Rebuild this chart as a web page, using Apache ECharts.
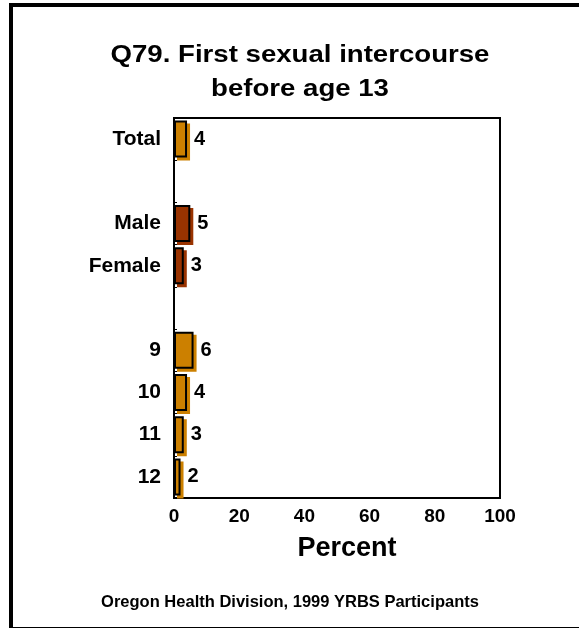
<!DOCTYPE html>
<html><head><meta charset="utf-8">
<script src="https://cdn.jsdelivr.net/npm/echarts@6/dist/echarts.min.js"></script>
<style>html,body{margin:0;padding:0;background:#fff}#c{width:579px;height:628px}</style>
</head><body><div id="c"></div>
<script>
const categories = ['Total', '', 'Male', 'Female', '', '9', '10', '11', '12'];
const values = [4, null, 5, 3, null, 6, 4, 3, 2];
const groups = ['all', null, 'sex', 'sex', null, 'grade', 'grade', 'grade', 'grade'];
const xTicks = [0, 20, 40, 60, 80, 100];
const colorMap = { all: '#CC8000', sex: '#993300', grade: '#CC8000' };

const chart = echarts.init(document.getElementById('c'), null, { renderer: 'canvas' });
const font = 'Liberation Sans, Arial, sans-serif';
const data = values.map((v, i) => v == null ? null : ({
  value: v,
  itemStyle: { color: colorMap[groups[i]], shadowColor: colorMap[groups[i]] }
}));

chart.setOption({
  animation: false,
  backgroundColor: '#fff',
  grid: { left: 174, right: 79, top: 118, bottom: 130, show: true, borderColor: '#000', borderWidth: 2, backgroundColor: 'transparent' },
  xAxis: {
    type: 'value', min: xTicks[0], max: xTicks[xTicks.length - 1], interval: 20,
    axisLine: { show: true, lineStyle: { color: '#000', width: 2 } },
    axisTick: { show: false },
    splitLine: { show: false },
    axisLabel: { color: '#000', fontFamily: font, fontWeight: 'bold', fontSize: 19, margin: 9 },
    name: 'Percent', nameLocation: 'middle', nameGap: 37,
    nameTextStyle: { color: '#000', fontFamily: font, fontWeight: 'bold', fontSize: 27, padding: [0, 0, 0, 20] }
  },
  yAxis: {
    type: 'category', data: categories, inverse: true,
    axisLine: { show: true, lineStyle: { color: '#000', width: 2 } },
    axisTick: { show: true, inside: true, length: 3, lineStyle: { color: '#000' } },
    axisLabel: { color: '#000', fontFamily: font, fontWeight: 'bold', fontSize: 21, margin: 13 }
  },
  series: [{
    type: 'bar', data: data, barWidth: 37,
    itemStyle: { borderColor: '#000', borderWidth: 2, shadowBlur: 0, shadowOffsetX: 3, shadowOffsetY: 3 },
    label: { show: true, position: 'right', distance: 7, color: '#000', fontFamily: font, fontWeight: 'bold', fontSize: 20 }
  }],
  graphic: [
    { type: 'rect', shape: { x: 11, y: 5, width: 600, height: 624 }, style: { fill: 'none', stroke: '#000', lineWidth: 4 }, silent: true },
    { type: 'text', x: 300, y: 56, scaleX: 1.2, style: { text: 'Q79. First sexual intercourse', textAlign: 'center', textVerticalAlign: 'middle', font: 'bold 23px ' + font, fill: '#000' } },
    { type: 'text', x: 300, y: 90, scaleX: 1.2, style: { text: 'before age 13', textAlign: 'center', textVerticalAlign: 'middle', font: 'bold 23px ' + font, fill: '#000' } },
    { type: 'text', x: 290, y: 602, style: { text: 'Oregon Health Division, 1999 YRBS Participants', textAlign: 'center', textVerticalAlign: 'middle', font: 'bold 16.5px ' + font, fill: '#000' } }
  ]
});
</script></body></html>
